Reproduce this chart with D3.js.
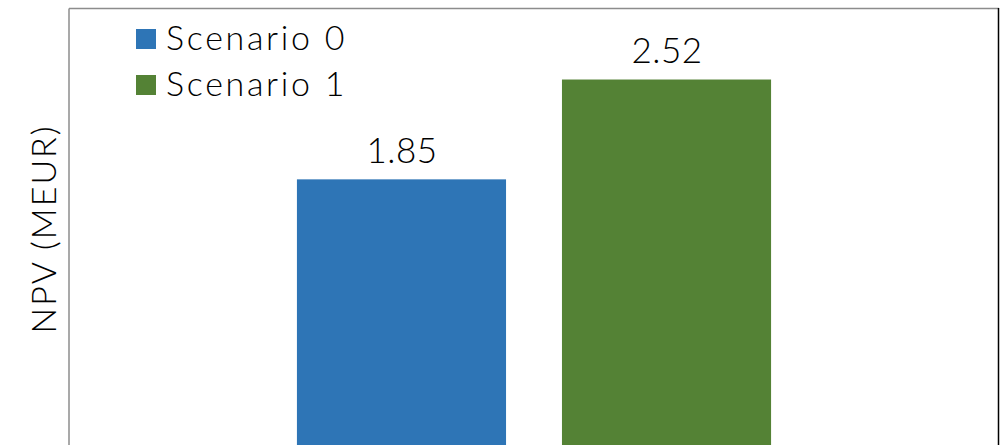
<!DOCTYPE html>
<html><head><meta charset="utf-8">
<script src="https://cdn.jsdelivr.net/npm/d3@7"></script>
<style>body{margin:0;background:#fff}svg{display:block}text{font-family:Lato,"Open Sans",sans-serif;font-weight:300;fill:#000}</style>
</head><body>
<script>
const series = ["Scenario 0", "Scenario 1"];
const values = [1.85, 2.52];
const colors = ["#2E75B6", "#548235"];
const yDomain = [0, 3];
const yTitle = "NPV (MEUR)";

const W = 1003, H = 445;
const mLeft = 69, mRight = 999, mTop = 8, mBottom = 455;
const svg = d3.select("body").append("svg").attr("width", W).attr("height", H);

const x = d3.scaleBand().domain(series).range([mLeft, mRight]).paddingInner(0.211).paddingOuter(0.86);
const y = d3.scaleLinear().domain(yDomain).range([mBottom, mTop]);

// frame
svg.append("line").attr("x1", mLeft).attr("x2", mRight).attr("y1", mTop + 0.5).attr("y2", mTop + 0.5).attr("stroke", "#8c8c8c").attr("stroke-width", 1.5);
svg.append("line").attr("x1", mRight - 0.5).attr("x2", mRight - 0.5).attr("y1", mTop).attr("y2", H).attr("stroke", "#000").attr("stroke-width", 1.5);

const yAxis = svg.append("g").attr("transform", `translate(${mLeft - 0.5},0)`).call(d3.axisLeft(y).tickValues([]).tickSizeOuter(0));
yAxis.select(".domain").attr("stroke", "#8c8c8c").attr("stroke-width", 1.5);

svg.selectAll("rect.bar").data(series).join("rect").attr("class", "bar")
  .attr("x", d => x(d)).attr("width", x.bandwidth())
  .attr("y", (d, i) => y(values[i])).attr("height", (d, i) => y(0) - y(values[i]))
  .attr("fill", (d, i) => colors[i]);

svg.selectAll("text.val").data(series).join("text").attr("class", "val")
  .attr("x", d => x(d) + x.bandwidth() / 2 + 0.5).attr("y", (d, i) => y(values[i]) - 16.5)
  .attr("text-anchor", "middle").attr("font-size", 35).attr("letter-spacing", 0.5)
  .text((d, i) => values[i].toFixed(2));

// legend
const lg = svg.append("g");
series.forEach((s, i) => {
  lg.append("rect").attr("x", 136).attr("y", 29 + i * 46).attr("width", 20).attr("height", 20).attr("fill", colors[i]);
  lg.append("text").attr("x", 166).attr("y", 50 + i * 46).attr("font-size", 34).attr("letter-spacing", 2.7).text(s);
});

svg.append("text").attr("transform", `translate(56,229) rotate(-90)`).attr("text-anchor", "middle")
  .attr("font-size", 34).attr("letter-spacing", 2).text(yTitle);
</script>
</body></html>
